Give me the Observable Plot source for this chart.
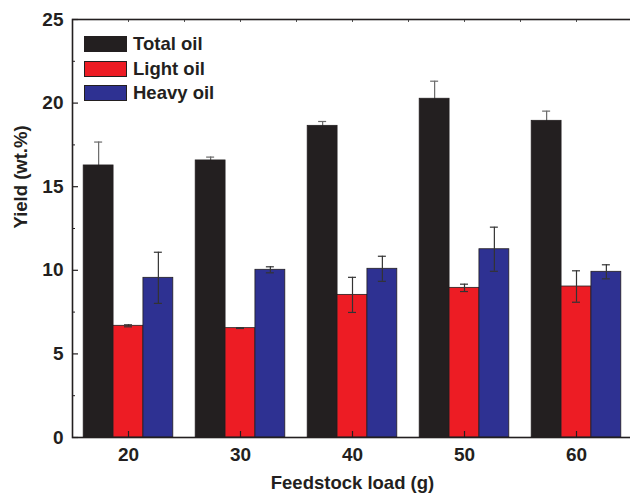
<!DOCTYPE html>
<html><head><meta charset="utf-8">
<script src="https://cdn.jsdelivr.net/npm/d3@7"></script>
<script src="https://cdn.jsdelivr.net/npm/@observablehq/plot@0.6"></script>
<style>
body{margin:0;background:#fff;}
#wrap{position:relative;width:630px;height:496px;overflow:hidden;font-family:"Liberation Sans",Arial,sans-serif;font-weight:bold;color:#231f20;}
#legend{position:absolute;left:84px;top:32px;}
.row{display:flex;align-items:center;height:24.5px;font-size:18.5px;line-height:1;}
.sw{width:43px;height:16px;box-sizing:border-box;border:1px solid #231f20;margin-right:6px;}
svg{display:block;}
</style></head><body><div id="wrap"><div id="legend"></div></div>
<script>
const loads = [20, 30, 40, 50, 60];
const series = ["Total oil", "Light oil", "Heavy oil"];
const colors = ["#231f20", "#ed1c24", "#2e3192"];
const totalOil = [16.27, 16.57, 18.64, 20.26, 18.94];
const totalErr = [1.40, 0.20, 0.26, 1.05, 0.58];
const lightOil = [6.68, 6.54, 8.53, 8.95, 9.03];
const lightErr = [0.06, 0.02, 1.05, 0.22, 0.94];
const heavyOil = [9.55, 10.03, 10.09, 11.26, 9.91];
const heavyErr = [1.53, 0.18, 0.75, 1.32, 0.42];
const yTicks = [0, 5, 10, 15, 20, 25];
const yMinor = [2.5, 7.5, 12.5, 17.5, 22.5];
const topTicks = [20, 25, 30, 35, 40, 45, 50, 55, 60];
const xDomain = [15, 65];
const yDomain = [0, 25];
const xTitle = "Feedstock load (g)";
const yTitle = "Yield (wt.%)";

const vals = [totalOil, lightOil, heavyOil];
const errs = [totalErr, lightErr, heavyErr];
const groupW = 8, barW = groupW / series.length;
const rows = loads.flatMap((l, j) => series.map((s, i) => ({
  load: l, series: s, i, value: vals[i][j], err: errs[i][j],
  x1: l - groupW / 2 + i * barW, x2: l - groupW / 2 + (i + 1) * barW,
  xc: l - groupW / 2 + (i + 0.5) * barW
})));
const back = rows.filter(d => d.i === 0);
const front = rows.filter(d => d.i !== 0);

const ink = "#231f20";
function errMarks(data, color) {
  return [
    Plot.ruleX(data, {x: "xc", y1: d => d.value - d.err, y2: d => d.value + d.err, stroke: color, strokeWidth: 1.2}),
    Plot.ruleY(data, {x1: "xc", x2: "xc", y: d => d.value + d.err, insetLeft: -4, insetRight: -4, stroke: color, strokeWidth: 1.2}),
    Plot.ruleY(data, {x1: "xc", x2: "xc", y: d => d.value - d.err, insetLeft: -4, insetRight: -4, stroke: color, strokeWidth: 1.2})
  ];
}
const chart = Plot.plot({
  width: 630, height: 496,
  marginLeft: 72, marginRight: -2, marginTop: 19, marginBottom: 59,
  style: {fontFamily: "'Liberation Sans', Arial, sans-serif", fontWeight: "bold", color: ink, background: "#fff"},
  x: {domain: xDomain},
  y: {domain: yDomain},
  color: {domain: series, range: colors},
  marks: [
    ...errMarks(back, "#6a6a6a"),
    Plot.rect(rows, {x1: "x1", x2: "x2", y1: 0, y2: "value", fill: "series", stroke: ink, strokeWidth: 0.8}),
    ...errMarks(front, "#333"),
    Plot.ruleY(yTicks, {y: d => d, x1: xDomain[0], x2: xDomain[0], insetRight: -6, stroke: ink, strokeWidth: 1.2}),
    Plot.ruleY(yMinor, {y: d => d, x1: xDomain[0], x2: xDomain[0], insetRight: -3, stroke: ink, strokeWidth: 1}),
    Plot.ruleX(topTicks, {x: d => d, y1: yDomain[1], y2: yDomain[1], insetTop: 0, insetBottom: -3, stroke: "#555", strokeWidth: 1}),
    Plot.ruleX(loads, {x: d => d, y1: yDomain[0], y2: yDomain[0], insetTop: -6, insetBottom: 0, stroke: ink, strokeWidth: 1.2}),
    Plot.frame({stroke: ink, strokeWidth: 1.6}),
    Plot.axisY({ticks: yTicks, tickSize: 0, tickPadding: 9, label: null, fontSize: 19, fontWeight: "bold"}),
    Plot.axisX({ticks: loads, tickSize: 0, tickPadding: 10, tickFormat: d => String(d), label: null, fontSize: 19, fontWeight: "bold"}),
    Plot.text([xTitle], {text: d => d, frameAnchor: "bottom", dy: 51, lineAnchor: "bottom", fontSize: 18.5, fontWeight: "bold", fill: ink}),
    Plot.text([yTitle], {text: d => d, frameAnchor: "left", dx: -51, rotate: -90, fontSize: 18.5, fontWeight: "bold", fill: ink})
  ]
});
const wrap = document.getElementById("wrap");
wrap.insertBefore(chart, wrap.firstChild);

const legend = document.getElementById("legend");
series.forEach((s, i) => {
  const row = document.createElement("div");
  row.className = "row";
  const sw = document.createElement("div");
  sw.className = "sw";
  sw.style.background = colors[i];
  const t = document.createElement("span");
  t.textContent = s;
  row.appendChild(sw); row.appendChild(t);
  legend.appendChild(row);
});
</script></body></html>
